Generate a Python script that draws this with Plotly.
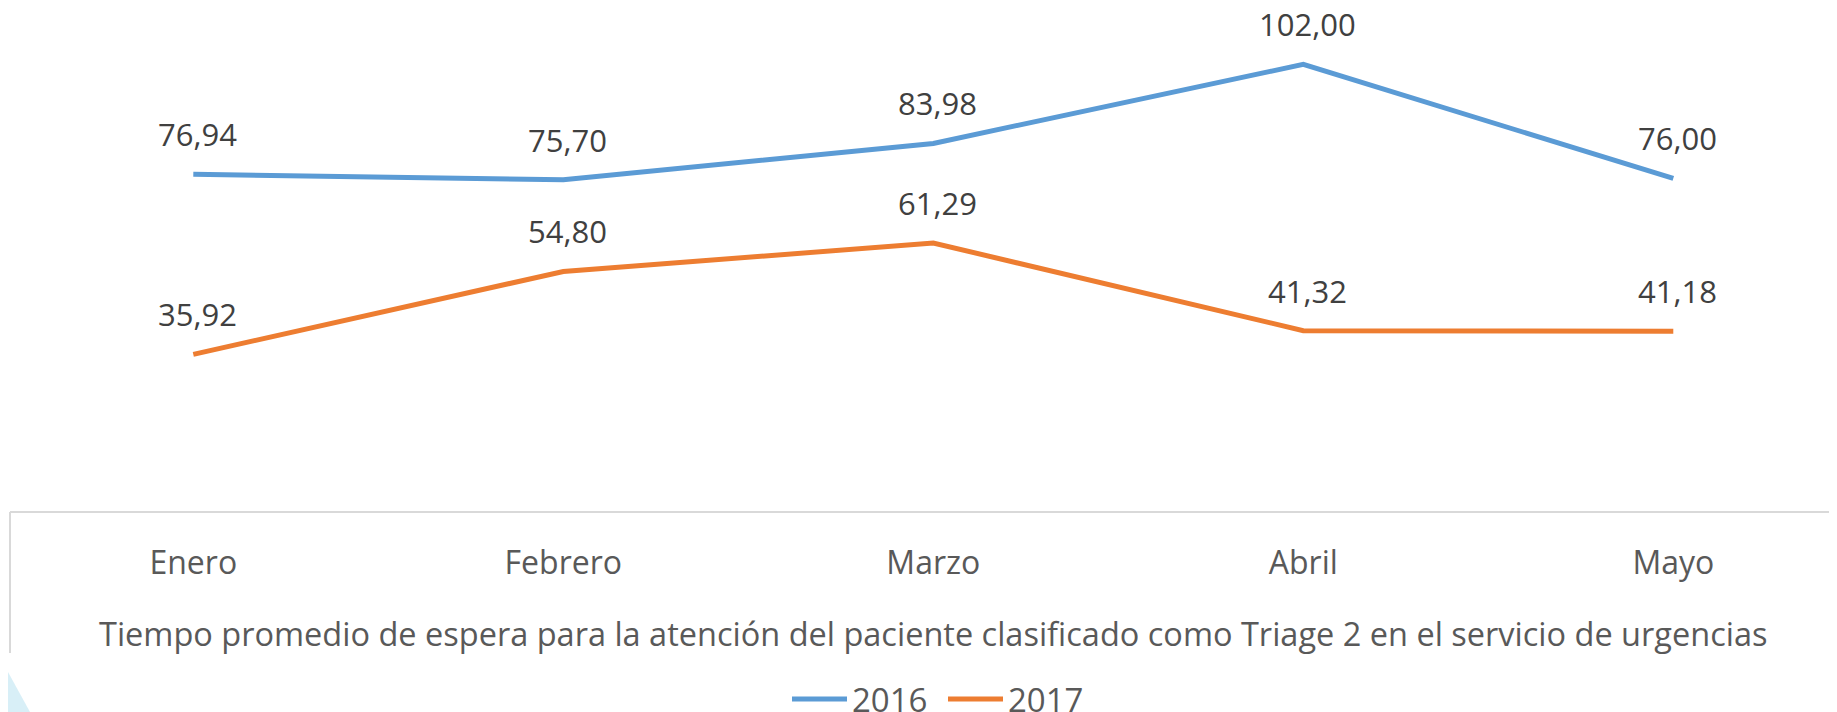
import plotly.graph_objects as go

meses = ["Enero", "Febrero", "Marzo", "Abril", "Mayo"]
serie_2016 = [76.94, 75.70, 83.98, 102.00, 76.00]
serie_2017 = [35.92, 54.80, 61.29, 41.32, 41.18]
titulo_x = "Tiempo promedio de espera para la atención del paciente clasificado como Triage 2 en el servicio de urgencias"

OFF = 8  # page body margin
W, H = 1837 - OFF, 712 - OFF
AXIS_Y = 512 - OFF
ML, MR, MT = 10 - OFF, 0, 0
MB = H - AXIS_Y
FONT = "Open Sans"
PX_PER_UNIT = 4.389
CAT0, CATSTEP = 193.3 - OFF, 370.0

def fmt(v):
    return f"{v:.2f}".replace(".", ",")

fig = go.Figure()
fig.add_trace(go.Scatter(x=list(range(len(meses))), y=serie_2016, mode="lines", name="2016",
                         line=dict(color="#5B9BD5", width=5)))
fig.add_trace(go.Scatter(x=list(range(len(meses))), y=serie_2017, mode="lines", name="2017",
                         line=dict(color="#ED7D31", width=5)))

for serie in (serie_2016, serie_2017):
    for i, v in enumerate(serie):
        fig.add_annotation(x=i, y=v, xref="x", yref="y", text=fmt(v), showarrow=False,
                           yanchor="bottom", xanchor="center", yshift=17, xshift=4,
                           font=dict(family=FONT, size=31, color="#404040"))

plot_h = H - MT - MB
plot_w = W - ML - MR
def py(p):
    return (AXIS_Y - (p - OFF)) / plot_h
def px(p):
    return (p - OFF - ML) / plot_w

# axis title (placed as annotation to match horizontal centring)
fig.add_annotation(x=px(933), y=py(633.5), xref="paper", yref="paper", text=titulo_x,
                   showarrow=False, xanchor="center", yanchor="middle",
                   font=dict(family=FONT, size=32.5, color="#595959"))

fig.add_shape(type="line", xref="paper", yref="paper", x0=0, x1=0, y0=py(512), y1=py(653),
              line=dict(color="#D9D9D9", width=2))
fig.add_shape(type="path", xref="paper", yref="paper",
              path=f"M {px(0)},{py(660)} L {px(8)},{py(672)} L {px(30)},{py(712)} L {px(0)},{py(712)} Z",
              fillcolor="rgba(190,228,242,0.6)", line=dict(width=0))

fig.update_layout(
    width=W, height=H,
    margin=dict(l=ML, r=MR, t=MT, b=MB, pad=0),
    paper_bgcolor="white", plot_bgcolor="white",
    showlegend=True,
    legend=dict(orientation="h", xref="paper", x=px(943), xanchor="center",
                yref="container", y=(712 - 699) / H, yanchor="middle",
                font=dict(family=FONT, size=33, color="#595959"), bgcolor="rgba(0,0,0,0)",
                itemwidth=55, tracegroupgap=0, entrywidth=86, entrywidthmode="pixels"),
    xaxis=dict(range=[(ML - CAT0) / CATSTEP, (W + MR - CAT0) / CATSTEP],
               tickmode="array", tickvals=list(range(len(meses))), ticktext=meses,
               showgrid=False, zeroline=False, showline=False, ticks="",
               ticklabelstandoff=29,
               tickfont=dict(family=FONT, size=32, color="#595959"),
               automargin=False, fixedrange=True),
    yaxis=dict(range=[0, plot_h / PX_PER_UNIT], showgrid=False, zeroline=True,
               zerolinecolor="#D9D9D9", zerolinewidth=2, showticklabels=False,
               showline=False, ticks="", automargin=False, fixedrange=True),
)

fig.write_html("out.html")
